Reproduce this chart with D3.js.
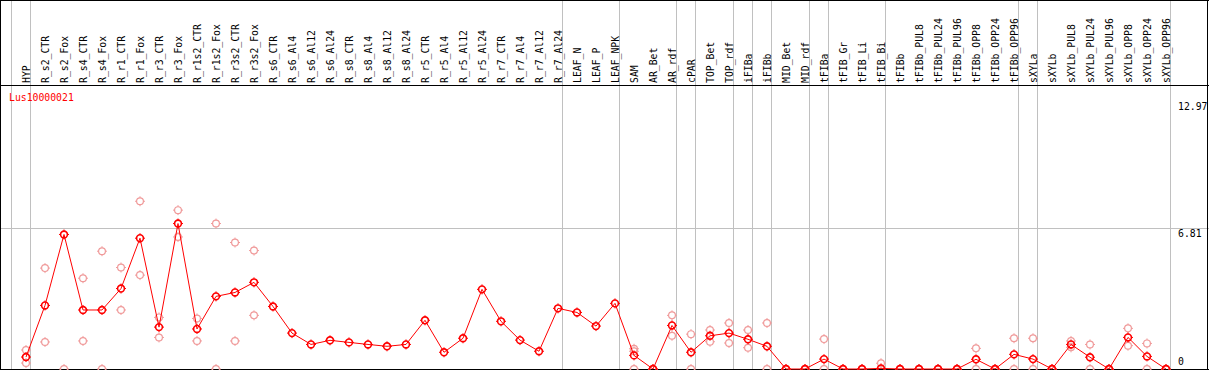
<!DOCTYPE html>
<html><head><meta charset="utf-8">
<script src="https://cdn.jsdelivr.net/npm/d3@7"></script>
<style>html,body{margin:0;padding:0;background:#fff;}svg{display:block;}</style>
</head><body>
<script>
const geneId = "Lus10000021";
const categories = ["HYP","R_s2_CTR","R_s2_Fox","R_s4_CTR","R_s4_Fox","R_r1_CTR","R_r1_Fox","R_r3_CTR","R_r3_Fox","R_r1s2_CTR","R_r1s2_Fox","R_r3s2_CTR","R_r3s2_Fox","R_s6_CTR","R_s6_Al4","R_s6_Al12","R_s6_Al24","R_s8_CTR","R_s8_Al4","R_s8_Al12","R_s8_Al24","R_r5_CTR","R_r5_Al4","R_r5_Al12","R_r5_Al24","R_r7_CTR","R_r7_Al4","R_r7_Al12","R_r7_Al24","LEAF_N","LEAF_P","LEAF_NPK","SAM","AR_Bet","AR_rdf","cPAR","TOP_Bet","TOP_rdf","iFIBa","iFIBb","MID_Bet","MID_rdf","tFIBa","tFIB_Gr","tFIB_Li","tFIB_Bi","tFIBb","tFIBb_PUL8","tFIBb_PUL24","tFIBb_PUL96","tFIBb_OPP8","tFIBb_OPP24","tFIBb_OPP96","sXYLa","sXYLb","sXYLb_PUL8","sXYLb_PUL24","sXYLb_PUL96","sXYLb_OPP8","sXYLb_OPP24","sXYLb_OPP96"];
// first category of each group (group separators)
const groupStarts = ["HYP","R_s2_CTR","LEAF_N","SAM","cPAR","TOP_Bet","iFIBa","iFIBb","MID_Bet","tFIBa","tFIB_Gr","tFIBb","sXYLa","sXYLb"];
const meanValues = [0.58,3.08,6.52,2.86,2.86,3.90,6.34,2.03,7.05,1.94,3.52,3.71,4.20,3.03,1.74,1.19,1.39,1.29,1.19,1.10,1.19,2.36,0.81,1.49,3.86,2.31,1.40,0.86,2.94,2.74,2.08,3.18,0.66,0,2.11,0.81,1.61,1.74,1.44,1.10,0,0,0.48,0,0,0.03,0,0,0,0,0.47,0,0.71,0.48,0,1.19,0.57,0,1.53,0.61,0];
const rep1 = [0.92,4.89,0,4.40,5.71,4.92,8.13,2.50,7.70,2.45,7.05,6.13,5.74,null,null,null,null,null,null,null,null,null,null,null,null,null,null,null,null,null,null,null,0.98,0,2.60,1.69,1.89,2.23,1.89,2.23,0,0,1.45,0,0,0.28,0,0,0,0,1.00,0,1.49,1.49,0,1.36,1.19,0,1.97,1.24,0];
const rep2 = [0.29,1.31,null,1.36,0,2.86,4.55,1.53,6.40,1.36,0,1.36,2.60,null,null,null,null,null,null,null,null,null,null,null,null,null,null,null,null,null,null,null,0.86,0,1.61,0,1.32,1.26,1.03,0,0,0,0,0,0,0,0,0,0,0,0,0,0,0,0,1.05,0,0,1.13,0,0];
const rep3 = [null,null,null,null,null,null,null,null,null,null,null,null,null,null,null,null,null,null,null,null,null,null,null,null,null,null,null,null,null,null,null,null,0,null,null,null,null,null,null,null,null,null,null,null,null,null,null,null,null,null,null,null,null,null,null,null,null,null,null,null,null];
const yTicks = [0, 6.81, 12.97];
const yMax = 12.97;

const W = 1209, H = 370;
const svg = d3.select("body").append("svg").attr("width", W).attr("height", H)
  .style("font-family", "'DejaVu Sans Mono', 'Liberation Mono', monospace");

const x = d3.scaleBand().domain(categories).range([11, 11 + 19 * categories.length]).padding(0);
const px = c => x(c) + 15;
const y = d3.scaleLinear().domain([0, yMax]).range([369, 101.4]);

const grey = "#c0c0c0";
// horizontal gridline (middle tick)
svg.append("line").attr("x1", 0).attr("x2", W).attr("y1", y(6.81)).attr("y2", y(6.81))
  .attr("stroke", grey).attr("stroke-width", 1);
// group separators
const seps = groupStarts.map(g => x(g)).concat([x.range()[1]]);
svg.selectAll("line.sep").data(seps).join("line").attr("class", "sep")
  .attr("x1", d => d + 0.5).attr("x2", d => d + 0.5).attr("y1", 0).attr("y2", H)
  .attr("stroke", grey).attr("stroke-width", 1);

// frame
svg.append("line").attr("x1", 0).attr("x2", W).attr("y1", 0.5).attr("y2", 0.5).attr("stroke", "#000");
svg.append("line").attr("x1", 0).attr("x2", W).attr("y1", 85.5).attr("y2", 85.5).attr("stroke", "#000");
svg.append("line").attr("x1", 0).attr("x2", W).attr("y1", 369.5).attr("y2", 369.5).attr("stroke", "#000");
svg.append("line").attr("x1", 0.5).attr("x2", 0.5).attr("y1", 0).attr("y2", H).attr("stroke", "#000");
svg.append("line").attr("x1", 1207.5).attr("x2", 1207.5).attr("y1", 0).attr("y2", H).attr("stroke", "#000");

// header labels
svg.selectAll("text.cat").data(categories).join("text").attr("class", "cat")
  .attr("transform", d => `translate(${px(d) + 3.5},83) rotate(-90) scale(0.89,1)`)
  .attr("font-size", 11).attr("fill", "#000").text(d => d);

// gene label
svg.append("text").attr("transform", "translate(9,101) scale(0.89,1)")
  .attr("font-size", 11).attr("fill", "#ff0000").text(geneId);

// right axis labels
svg.selectAll("text.tick").data(yTicks).join("text").attr("class", "tick")
  .attr("transform", d => `translate(1178,${d === 0 ? 365 : y(d) + 8.6}) scale(0.89,1)`)
  .attr("font-size", 11).attr("fill", "#000").text(d => d === 0 ? "0" : d3.format(".2f")(d));

const plot = svg.append("g");
const markerTicks = r => `M0,${-r - 1.6}V${-r} M0,${r}V${r + 1.6} M${-r - 1.6},0H${-r} M${r},0H${r + 1.6}`;
function drawMarkers(data, color, sw, cls) {
  const g = plot.selectAll("g." + cls).data(data).join("g").attr("class", cls)
    .attr("transform", d => `translate(${px(d.c)},${y(d.v)})`);
  g.append("circle").attr("r", 3.4).attr("fill", "none").attr("stroke", color).attr("stroke-width", sw);
  g.append("path").attr("d", markerTicks(3.4)).attr("stroke", color).attr("stroke-width", 1).attr("fill", "none");
}
const reps = [];
[rep1, rep2, rep3].forEach(arr => arr.forEach((v, i) => { if (v !== null) reps.push({c: categories[i], v}); }));
drawMarkers(reps, "#f09a9a", 1.2, "rep");

const means = categories.map((c, i) => ({c, v: meanValues[i]}));
plot.append("path").datum(means)
  .attr("d", d3.line().x(d => px(d.c)).y(d => y(d.v)))
  .attr("fill", "none").attr("stroke", "#ff0000").attr("stroke-width", 1);
drawMarkers(means, "#ff0000", 1.6, "mean");
</script>
</body></html>
